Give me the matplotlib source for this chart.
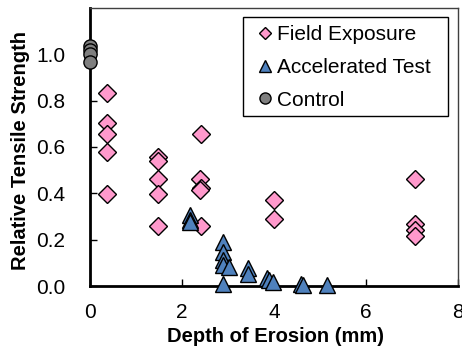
import matplotlib
matplotlib.use("Agg")
import matplotlib.pyplot as plt
from matplotlib.lines import Line2D
from matplotlib.patches import Rectangle

plt.rcParams['font.family'] = ['Liberation Sans', 'DejaVu Sans']

# Field exposure (pink diamonds)
field_x = [0.36, 0.36, 0.36, 0.36, 0.36,
           1.48, 1.48, 1.48, 1.48, 1.48,
           2.42, 2.40, 2.42, 2.40, 2.42,
           4.01, 4.01,
           7.06, 7.06, 7.06, 7.06]
field_y = [0.835, 0.704, 0.658, 0.577, 0.396,
           0.557, 0.540, 0.460, 0.395, 0.259,
           0.654, 0.460, 0.423, 0.413, 0.259,
           0.370, 0.288,
           0.461, 0.268, 0.240, 0.215]

# Accelerated test (blue triangles)
acc_x = [2.17, 2.17, 2.17,
         2.89, 2.89, 2.89, 2.89, 2.89, 3.03,
         3.43, 3.43,
         3.84, 3.90, 3.97,
         4.59, 4.64, 5.16]
acc_y = [0.305, 0.287, 0.277,
         0.190, 0.147, 0.111, 0.090, 0.010, 0.080,
         0.079, 0.053,
         0.036, 0.025, 0.017,
         0.010, 0.003, 0.003]

# Control (gray circles)
ctrl_x = [0.0, 0.0, 0.0, 0.0]
ctrl_y = [1.035, 1.020, 1.000, 0.965]

x_ticks = [0, 2, 4, 6, 8]
y_ticks = [0.0, 0.2, 0.4, 0.6, 0.8, 1.0]

pink = '#FF99CC'
blue = '#4F81BD'
gray = '#7F7F7F'

W, H = 462, 349
fig = plt.figure(figsize=(W/100, H/100), dpi=100)
ax = fig.add_axes([90/W, 1-286/H, 368/W, 278/H])

ax.plot(field_x, field_y, linestyle='none', marker='D', markersize=9,
        markerfacecolor=pink, markeredgecolor='black', markeredgewidth=1.0,
        clip_on=False, zorder=5)
ax.plot(acc_x, acc_y, linestyle='none', marker='^', markersize=11,
        markerfacecolor=blue, markeredgecolor='black', markeredgewidth=1.0,
        clip_on=False, zorder=6)
ax.plot(ctrl_x, ctrl_y, linestyle='none', marker='o', markersize=9.5,
        markerfacecolor=gray, markeredgecolor='black', markeredgewidth=1.0,
        clip_on=False, zorder=7)

ax.set_xlim(0, 8)
ax.set_ylim(0, 1.2)
ax.set_xticks(x_ticks)
ax.set_xticklabels([str(t) for t in x_ticks])
ax.set_yticks(y_ticks)
ax.set_yticklabels([f"{t:.1f}" for t in y_ticks])
ax.tick_params(axis='both', direction='in', length=5, width=1.0, labelsize=15)
ax.tick_params(axis='y', pad=18)
ax.tick_params(axis='x', pad=12)

for s in ['left', 'bottom']:
    ax.spines[s].set_linewidth(2.0)
    ax.spines[s].set_color('black')
for s in ['top', 'right']:
    ax.spines[s].set_linewidth(1.0)
    ax.spines[s].set_color('#404040')

ax.set_xlabel('Depth of Erosion (mm)', fontsize=14.5, fontweight='bold')
ax.xaxis.set_label_coords(0.503, -0.148)
ax.set_ylabel('Relative Tensile Strength', fontsize=14.5, fontweight='bold')
ax.yaxis.set_label_coords(-0.163, 0.486)

handles = [
    Line2D([], [], linestyle='none', marker='D', markersize=6.5, markerfacecolor=pink,
           markeredgecolor='black', markeredgewidth=1.0, label='Field Exposure'),
    Line2D([], [], linestyle='none', marker='^', markersize=9, markerfacecolor=blue,
           markeredgecolor='black', markeredgewidth=1.0, label='Accelerated Test'),
    Line2D([], [], linestyle='none', marker='o', markersize=8, markerfacecolor=gray,
           markeredgecolor='black', markeredgewidth=1.0, label='Control'),
]
# legend frame
frame = Rectangle((243/W, 1-116/H), 205/W, 99/H, transform=fig.transFigure,
                  facecolor='white', edgecolor='black', linewidth=1.0,
                  zorder=8, clip_on=False)
ax.add_patch(frame)
leg = ax.legend(handles=handles, loc='upper left',
                bbox_to_anchor=(243/W, 1-15.5/H), bbox_transform=fig.transFigure,
                fontsize=15, frameon=False, handlelength=1.15, handletextpad=0.0,
                labelspacing=0.65, borderpad=0.48, borderaxespad=0)
leg.set_zorder(9)

fig.savefig('out.png', dpi=100)
